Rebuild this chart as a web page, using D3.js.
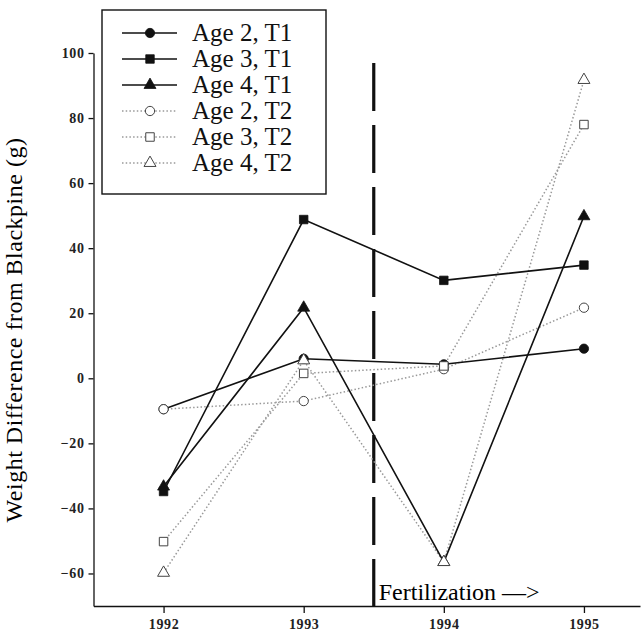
<!DOCTYPE html>
<html>
<head>
<meta charset="utf-8">
<script src="https://cdn.jsdelivr.net/npm/d3@7"></script>
<style>
	body{margin:0;background:#fff;}
	svg text{font-family:"Liberation Serif","Times New Roman",serif;}
	.axis path,.axis line{stroke:#111;stroke-width:1.3;}
	.axis text{font-size:14px;font-weight:bold;fill:#222;}
</style>
</head>
<body>
<svg id="chart" width="644" height="638"></svg>
<script>
// values
const years = [1992, 1993, 1994, 1995];
const age2T1 = [-9.5, 6.0, 4.3, 9.1];
const age3T1 = [-34.8, 48.8, 30.1, 34.8];
const age4T1 = [-33.3, 21.7, -56.5, 49.8];
const age2T2 = [-9.5, -7.0, 2.8, 21.7];
const age3T2 = [-50.2, 1.5, 3.8, 78.0];
const age4T2 = [-59.8, 5.5, -56.5, 91.7];
const yTicks = [-60, -40, -20, 0, 20, 40, 60, 80, 100];
const fertYear = 1993.5;

const series = [
	{name:'Age 2, T1', values:age2T1, shape:'circle', filled:true},
	{name:'Age 3, T1', values:age3T1, shape:'square', filled:true},
	{name:'Age 4, T1', values:age4T1, shape:'triangle', filled:true},
	{name:'Age 2, T2', values:age2T2, shape:'circle', filled:false},
	{name:'Age 3, T2', values:age3T2, shape:'square', filled:false},
	{name:'Age 4, T2', values:age4T2, shape:'triangle', filled:false}
];

const svg = d3.select('#chart');
const x = d3.scaleLinear().domain([1991.5, 1995.4]).range([93.5, 640]);
const y = d3.scaleLinear().domain([-70, 100]).range([606, 53]);

//axes
svg.append('g').attr('class','axis')
	.attr('transform','translate(93.5,0)')
	.call(d3.axisLeft(y).tickValues(yTicks).tickSize(5).tickSizeOuter(0).tickPadding(4))
	.selectAll('text').attr('letter-spacing','0.6px');
svg.append('g').attr('class','axis')
	.attr('transform','translate(0,606)')
	.call(d3.axisBottom(x).tickValues(years).tickFormat(d3.format('d')).tickSize(7).tickSizeOuter(0).tickPadding(6))
	.selectAll('text').attr('letter-spacing','0.6px');

svg.append('text')
	.attr('transform','translate(22,330) rotate(-90)')
	.attr('text-anchor','middle')
	.attr('letter-spacing','0.5px')
	.style('font-size','24px')
	.text('Weight Difference from Blackpine (g)');

//fertilization marker
svg.append('line')
	.attr('x1', x(fertYear)).attr('x2', x(fertYear))
	.attr('y1', 63).attr('y2', 606)
	.attr('stroke','#111').attr('stroke-width',3.2)
	.attr('stroke-dasharray','48,14');
svg.append('text')
	.attr('x', x(fertYear) + 5).attr('y', 600)
	.style('font-size','24px')
	.text('Fertilization \u2014>');

const symbolFor = {circle:d3.symbolCircle, square:d3.symbolSquare, triangle:d3.symbolTriangle};
const sizeFor = {circle:68, square:72, triangle:62};

function styleLine(sel, d){
	if(d.filled){
		sel.attr('stroke','#111').attr('stroke-width',1.6);
	}else{
		sel.attr('stroke','#999').attr('stroke-width',1.5).attr('stroke-dasharray','1.5,2.2');
	}
}
function drawMarker(g, d, cx, cy){
	g.append('path')
		.attr('d', d3.symbol().type(symbolFor[d.shape]).size(sizeFor[d.shape])())
		.attr('transform','translate(' + cx + ',' + cy + ')')
		.attr('fill', d.filled ? '#111' : '#fff')
		.attr('stroke', d.filled ? '#111' : '#444')
		.attr('stroke-width', d.filled ? 0.8 : 1);
}

const line = d3.line().x(function(v, i){ return x(years[i]); }).y(function(v){ return y(v); });

// dotted (T2) lines under the solid ones, T2 markers on top
const order = [3,4,5,0,1,2];
order.forEach(function(k){
	const d = series[k];
	svg.append('path').datum(d.values).attr('d', line).attr('fill','none').call(styleLine, d);
});
[0,1,2,3,4,5].forEach(function(k){
	const d = series[k];
	const g = svg.append('g');
	d.values.forEach(function(v, i){ drawMarker(g, d, x(years[i]), y(v)); });
});

//legend
const legend = svg.append('g');
legend.append('rect').attr('x',102).attr('y',10).attr('width',224).attr('height',184)
	.attr('fill','#fff').attr('stroke','#111').attr('stroke-width',1.4);
series.forEach(function(d, i){
	const cy = 33 + i * 26;
	legend.append('line').attr('x1',122).attr('x2',177).attr('y1',cy).attr('y2',cy).call(styleLine, d);
	drawMarker(legend, d, 150, cy);
	legend.append('text').attr('x',192).attr('y',cy + 8).style('font-size','25px').attr('fill','#111').text(d.name);
});
</script>
</body>
</html>
